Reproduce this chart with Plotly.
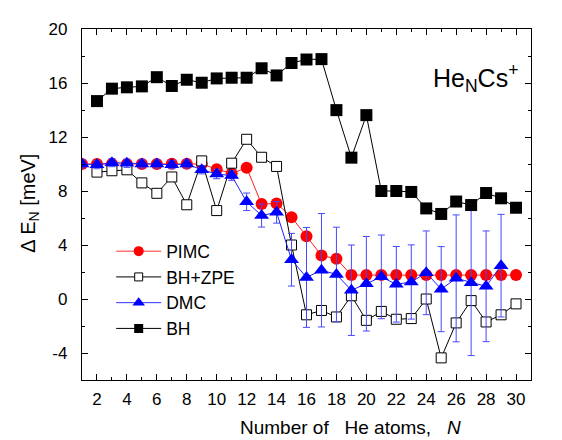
import plotly.graph_objects as go

# ---- data ----
n_pimc = list(range(1, 31))
pimc = [10.0, 10.0, 10.0, 10.0, 10.0, 10.0, 10.02, 10.02, 10.0, 9.62,
        9.3, 9.72, 7.03, 7.08, 6.06, 4.65, 3.22, 2.98, 1.77, 1.77,
        1.77, 1.77, 1.77, 1.77, 1.77, 1.77, 1.77, 1.77, 1.77, 1.77]

n_bhzpe = list(range(2, 31))
bhzpe = [9.4, 9.5, 9.57, 8.6, 7.83, 9.04, 6.98, 10.23, 6.55, 10.06,
         11.83, 10.5, 9.82, 4.0, -1.17, -0.85, -1.33, 0.24, -1.58, -0.92,
         -1.5, -1.45, 0.0, -4.36, -1.77, -0.12, -1.7, -1.17, -0.36]

n_dmc = list(range(1, 30))
dmc = [10.0, 9.95, 10.1, 10.05, 10.0, 10.0, 9.95, 10.0, 9.57, 9.26,
       9.14, 7.2, 6.18, 6.42, 2.91, 1.6, 2.13, 1.82, 0.65, 1.13,
       1.64, 1.09, 1.26, 1.94, 0.73, 1.53, 1.21, 0.94, 2.47]
dmc_err = [0.3, 0.3, 0.3, 0.3, 0.3, 0.3, 0.3, 0.3, 0.3, 0.35,
           0.35, 0.65, 0.85, 0.8, 1.95, 3.7, 4.2, 3.5, 3.35, 3.5,
           3.1, 2.8, 2.75, 3.1, 3.15, 4.7, 5.4, 4.1, 3.8]

n_bh = list(range(2, 31))
bh = [14.66, 15.58, 15.68, 15.75, 16.43, 15.78, 16.24, 16.02, 16.34, 16.39,
      16.39, 17.09, 16.56, 17.48, 17.74, 17.77, 13.99, 10.47, 13.62, 8.0,
      8.0, 7.93, 6.71, 6.3, 7.22, 6.96, 7.85, 7.46, 6.76]

x_tickvals = list(range(2, 31, 2))
x_ticktext = [str(v) for v in x_tickvals]
y_tickvals = [-4, 0, 4, 8, 12, 16, 20]
y_ticktext = [str(v) for v in y_tickvals]

FONT = "Liberation Sans, Arial, sans-serif"

fig = go.Figure()

fig.add_trace(go.Scatter(x=n_pimc, y=pimc, mode="lines+markers", showlegend=False,
                         line=dict(color="#ff2020", width=1),
                         marker=dict(symbol="circle", size=12, color="#ff0000")))
fig.add_trace(go.Scatter(x=n_bhzpe, y=bhzpe, mode="lines+markers", showlegend=False,
                         line=dict(color="black", width=1),
                         marker=dict(symbol="square", size=10, color="white",
                                     line=dict(color="black", width=1))))
fig.add_trace(go.Scatter(x=n_dmc, y=dmc, mode="lines+markers", showlegend=False,
                         line=dict(color="#2020ff", width=1),
                         marker=dict(symbol="triangle-up", size=13, color="#0000ff"),
                         error_y=dict(type="data", array=dmc_err, visible=True,
                                      color="#4848ff", thickness=1, width=3.5)))
fig.add_trace(go.Scatter(x=n_bh, y=bh, mode="lines+markers", showlegend=False,
                         line=dict(color="black", width=1),
                         marker=dict(symbol="square", size=12, color="black")))

# legend entries
fig.add_trace(go.Scatter(x=[None], y=[None], mode="lines+markers", name="PIMC",
                         line=dict(color="#ff3030", width=1),
                         marker=dict(symbol="circle", size=10, color="#ff0000")))
fig.add_trace(go.Scatter(x=[None], y=[None], mode="lines+markers", name="BH+ZPE",
                         line=dict(color="black", width=1),
                         marker=dict(symbol="square", size=8, color="white",
                                     line=dict(color="black", width=1))))
fig.add_trace(go.Scatter(x=[None], y=[None], mode="lines+markers", name="DMC",
                         line=dict(color="#3030ff", width=1),
                         marker=dict(symbol="triangle-up", size=11, color="#0000ff")))
fig.add_trace(go.Scatter(x=[None], y=[None], mode="lines+markers", name="BH",
                         line=dict(color="black", width=1),
                         marker=dict(symbol="square", size=9, color="black")))

axis_common = dict(showline=True, linecolor="black", linewidth=1.3, mirror="ticks",
                   ticks="inside", ticklen=6, tickwidth=1, tickcolor="black",
                   showgrid=False, zeroline=False,
                   tickfont=dict(family=FONT, size=17, color="black"))

fig.update_xaxes(range=[1, 31], tickmode="array", tickvals=x_tickvals, ticktext=x_ticktext,
                 minor=dict(ticks="inside", ticklen=3, dtick=1, tick0=1, tickcolor="black", showgrid=False),
                 ticklabelstandoff=3, **axis_common)
fig.update_yaxes(range=[-6, 20], tickmode="array", tickvals=y_tickvals, ticktext=y_ticktext,
                 minor=dict(ticks="inside", ticklen=3, dtick=2, tick0=0, tickcolor="black", showgrid=False),
                 ticklabelstandoff=10, **axis_common)

fig.add_annotation(text="Number of\u00a0\u00a0 He atoms,\u00a0\u00a0 <i>N</i>", xref="paper", yref="paper",
                   x=0.597, y=-0.134, xanchor="center", yanchor="middle", showarrow=False,
                   font=dict(family=FONT, size=19, color="black"))
fig.add_annotation(text="\u0394 E<sub>N</sub> [meV]", xref="paper", yref="paper",
                   x=-0.116, y=0.505, xanchor="center", yanchor="middle", showarrow=False,
                   textangle=-90, font=dict(family=FONT, size=20, color="black"))
fig.add_annotation(text="He<sub>N</sub>Cs<sup>+</sup>", xref="paper", yref="paper",
                   x=0.777, y=0.86, xanchor="left", yanchor="middle", showarrow=False,
                   font=dict(family=FONT, size=25, color="black"))

fig.update_layout(width=562, height=440, margin=dict(l=74, r=39, t=14, b=68),
                  plot_bgcolor="white", paper_bgcolor="white",
                  font=dict(family=FONT, size=17, color="black"),
                  legend=dict(x=0.065, y=0.418, xanchor="left", yanchor="top",
                              bgcolor="rgba(0,0,0,0)", borderwidth=0, itemwidth=45,
                              font=dict(family=FONT, size=17.5, color="black"),
                              tracegroupgap=0))

fig.write_html("out.html")
